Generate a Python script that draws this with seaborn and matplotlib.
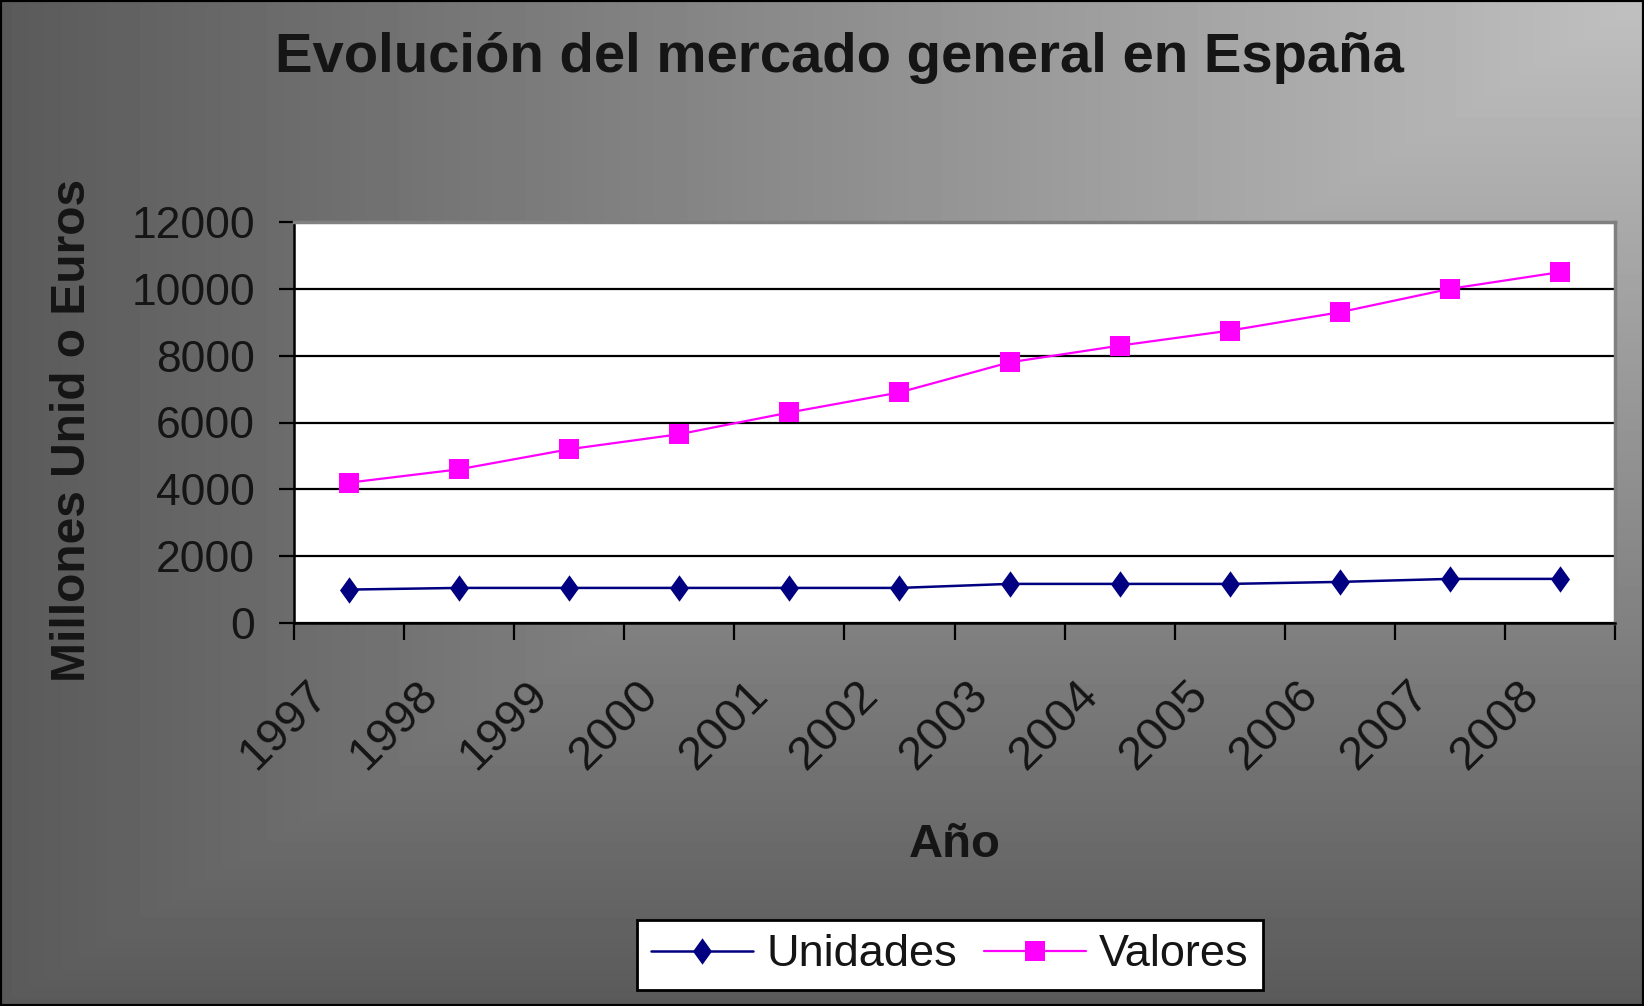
import numpy as np
import pandas as pd
import matplotlib
matplotlib.use("Agg")
import matplotlib.pyplot as plt
import matplotlib.transforms as mtransforms
from matplotlib.path import Path
from matplotlib.patches import Rectangle
import seaborn as sns

# Data
years = ["1997", "1998", "1999", "2000", "2001", "2002",
         "2003", "2004", "2005", "2006", "2007", "2008"]
unidades = [1000, 1050, 1050, 1050, 1050, 1050, 1170, 1170, 1170, 1230, 1320, 1320]
valores = [4200, 4600, 5200, 5650, 6300, 6900, 7800, 8300, 8750, 9300, 10000, 10500]
y_ticks = [0, 2000, 4000, 6000, 8000, 10000, 12000]

df = pd.DataFrame({"Año": years, "Unidades": unidades, "Valores": valores})

sns.set_theme(style="white")
plt.rcParams["font.family"] = ["Liberation Sans", "DejaVu Sans"]

W, H = 1644, 1006
fig = plt.figure(figsize=(W / 100, H / 100), dpi=100)

# Gradient background, light in the top-right corner
bg = fig.add_axes([0, 0, 1, 1], zorder=-10)
gx, gy = np.meshgrid(np.linspace(0, 1, 400), np.linspace(0, 1, 250))
f = 1 - np.maximum(1 - gx, gy)
bg.imshow(0x5A + (0xC0 - 0x5A) * f, cmap="gray", vmin=0, vmax=255,
          aspect="auto", extent=[0, 1, 0, 1], origin="upper")
bg.set_axis_off()

left, right, top, bottom = 294, 1615, 222, 623
ax = fig.add_axes([left / W, 1 - bottom / H, (right - left) / W, (bottom - top) / H])
ax.set_facecolor("white")

diamond = Path([(0, 1), (0.72, 0), (0, -1), (-0.72, 0), (0, 1)],
               [Path.MOVETO, Path.LINETO, Path.LINETO, Path.LINETO, Path.CLOSEPOLY])

sns.lineplot(data=df, x="Año", y="Unidades", ax=ax, color="#000080", lw=1.8,
             marker=diamond, markersize=19, markeredgewidth=0, label="Unidades", zorder=3)
sns.lineplot(data=df, x="Año", y="Valores", ax=ax, color="#FF00FF", lw=1.6,
             marker="s", markersize=14.5, markeredgewidth=0, label="Valores", zorder=3)

ax.set_xlim(-0.5, len(years) - 0.5)
ax.set_ylim(0, 12000)
ax.set_yticks(y_ticks)
ax.set_yticklabels([str(v) for v in y_ticks])
ax.yaxis.grid(True, color="black", lw=1.6)
ax.set_axisbelow(True)

ax.set_xticks(range(len(years)))
ax.set_xticklabels(years)
ax.set_xticks(np.arange(-0.5, len(years)), minor=True)
ax.tick_params(axis="x", which="major", length=0, pad=47, labelsize=34,
               labelcolor="#151515", labelrotation=45)
ax.tick_params(axis="x", which="minor", length=12, width=1.6, color="black",
               direction="out", bottom=True)
ax.tick_params(axis="y", length=11, width=1.6, color="black", direction="out",
               left=True, pad=17, labelsize=32, labelcolor="#151515")
offset = mtransforms.ScaledTranslation(-20 / 72, 0, fig.dpi_scale_trans)
for lab in ax.get_xticklabels():
    lab.set_ha("right")
    lab.set_va("center")
    lab.set_rotation_mode("anchor")
    lab.set_transform(lab.get_transform() + offset)

for side in ["left", "bottom"]:
    ax.spines[side].set_color("black")
    ax.spines[side].set_linewidth(1.8)
for side in ["top", "right"]:
    ax.spines[side].set_color("#808080")
    ax.spines[side].set_linewidth(2.5)

ax.set_xlabel("Año", fontsize=34, fontweight="bold", color="#151515")
ax.xaxis.set_label_coords(0.5, (H - 845 - (H - bottom)) / (bottom - top))
ax.xaxis.label.set_va("center")
ax.set_ylabel("Millones Unid o Euros", fontsize=34.5, fontweight="bold", color="#151515")
ax.yaxis.set_label_coords((73 - left) / (right - left), (H - 430 - (H - bottom)) / (bottom - top))
ax.yaxis.label.set_va("center")

fig.text(839 / W, 1 - 58 / H, "Evolución del mercado general en España",
         fontsize=40.5, fontweight="bold", color="#151515", ha="center", va="center")

leg = ax.legend(loc="center", bbox_to_anchor=(950 / W, 1 - 955 / H),
                bbox_transform=fig.transFigure, ncol=2, fontsize=32.5,
                frameon=True, fancybox=False, framealpha=1, edgecolor="black",
                handlelength=2.25, handletextpad=0.3, columnspacing=0.6,
                borderpad=0.32, borderaxespad=0)
leg.get_frame().set_linewidth(2)
for t in leg.get_texts():
    t.set_color("#151515")

fig.patches.append(Rectangle((0, 0), 1, 1, transform=fig.transFigure, fill=False,
                             edgecolor="black", lw=3, zorder=20))

fig.savefig("out.png", dpi=100)
